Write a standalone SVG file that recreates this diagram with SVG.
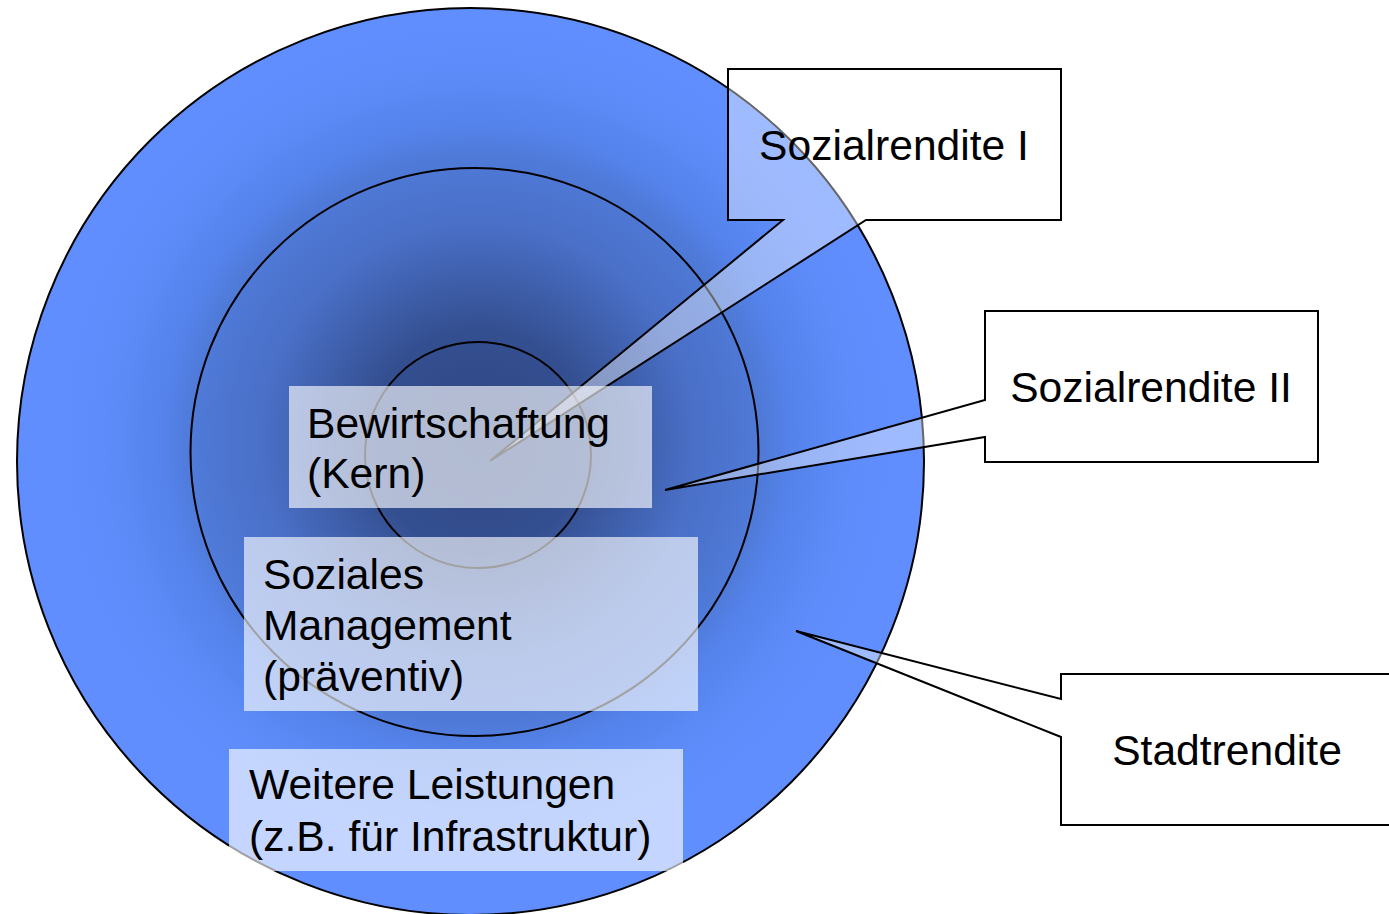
<svg xmlns="http://www.w3.org/2000/svg" width="1389" height="914" viewBox="0 0 1389 914">
  <defs>
    <radialGradient id="ringGrad" gradientUnits="userSpaceOnUse" cx="478" cy="440" r="420">
      <stop offset="0" stop-color="#2f4783"/>
      <stop offset="0.26" stop-color="#344f90"/>
      <stop offset="0.52" stop-color="#4a70c8"/>
      <stop offset="0.68" stop-color="#4f7ad8"/>
      <stop offset="0.75" stop-color="#5583ec"/>
      <stop offset="0.9" stop-color="#5e8cfa"/>
      <stop offset="1" stop-color="#608eff"/>
    </radialGradient>
  </defs>
  <style>
    .ring { fill: none; stroke: #000; stroke-width: 2; }
    .callout { fill: #ffffff; fill-opacity: 0.4; stroke: #000; stroke-width: 2; stroke-linejoin: miter; }
    .label { fill: #ffffff; fill-opacity: 0.63; stroke: none; }
    .txt { font-family: "Liberation Sans", Arial, sans-serif; font-size: 42.6px; fill: #000; }
    .mid { text-anchor: middle; }
  </style>
  <rect x="0" y="0" width="1389" height="914" fill="#ffffff"/>

  <g id="rings">
    <circle id="ring-outer" cx="470.5" cy="461.5" r="453.5" fill="url(#ringGrad)" stroke="#000" stroke-width="2"/>
    <circle id="ring-middle" class="ring" cx="474.5" cy="452" r="284"/>
    <circle id="ring-inner" class="ring" cx="478" cy="455" r="113"/>
  </g>

  <g id="connectors"></g>

  <g id="callout-sozialrendite-1">
    <path class="callout" d="M728,69 H1061 V220 H866 L490,461 L783,220 H728 Z"/>
    <text class="txt mid" x="894" y="160">Sozialrendite I</text>
  </g>
  <g id="callout-sozialrendite-2">
    <path class="callout" d="M985,311 H1318 V462 H985 V437 L665,490 L985,400 Z"/>
    <text class="txt mid" x="1151" y="402">Sozialrendite II</text>
  </g>
  <g id="callout-stadtrendite">
    <path class="callout" d="M1061,674 H1394 V825 H1061 V737 L796,631 L1061,699 Z"/>
    <text class="txt mid" x="1227" y="765">Stadtrendite</text>
  </g>

  <g id="label-bewirtschaftung">
    <rect class="label" x="289" y="386" width="363" height="122"/>
    <text class="txt" x="307" y="438">Bewirtschaftung</text>
    <text class="txt" x="307" y="488">(Kern)</text>
  </g>
  <g id="label-soziales-management">
    <rect class="label" x="244" y="537" width="454" height="174"/>
    <text class="txt" x="263" y="589">Soziales</text>
    <text class="txt" x="263" y="640">Management</text>
    <text class="txt" x="263" y="691">(präventiv)</text>
  </g>
  <g id="label-weitere-leistungen">
    <rect class="label" x="229" y="749" width="454" height="122"/>
    <text class="txt" x="249" y="799">Weitere Leistungen</text>
    <text class="txt" x="249" y="851">(z.B. für Infrastruktur)</text>
  </g>
</svg>
